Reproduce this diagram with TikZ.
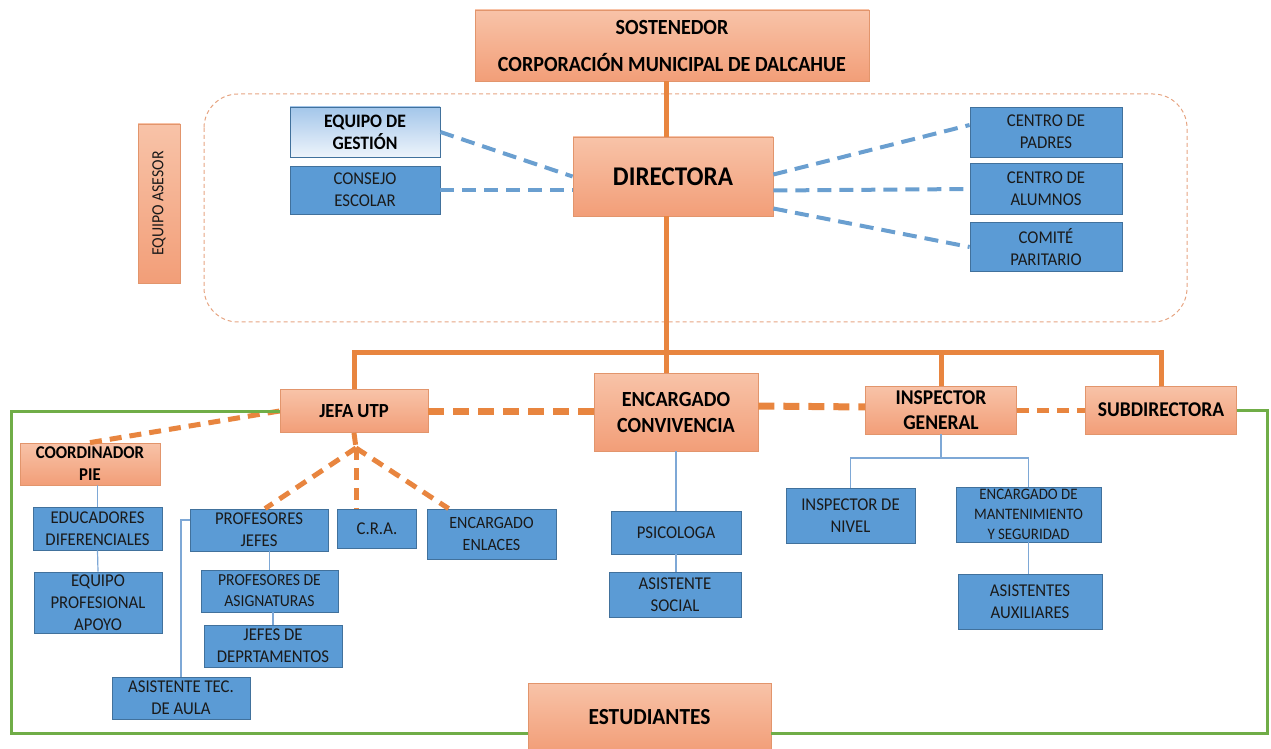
\documentclass[tikz,border=0pt]{standalone}
\usepackage{fontspec}
\setmainfont{Carlito}[FakeStretch=0.93]
\usepackage{tikz}
\usetikzlibrary{calc}
\definecolor{orTop}{HTML}{F8C3A8}
\definecolor{orBot}{HTML}{F29E78}
\definecolor{orLine}{HTML}{E2956C}
\definecolor{orLink}{HTML}{E8853F}
\definecolor{blFill}{HTML}{5B9BD5}
\definecolor{blLine}{HTML}{41719C}
\definecolor{blDash}{HTML}{6A9FD0}
\definecolor{blLink}{HTML}{7EA8D6}
\definecolor{gsTop}{HTML}{A3C6EA}
\definecolor{gsBot}{HTML}{EEF4FB}
\definecolor{frameGreen}{HTML}{70AD47}
\definecolor{txt}{HTML}{1A1A1A}
\tikzset{
    sz/.style 2 args={minimum width=#1*0.5pt, minimum height=#2*0.5pt},
    orbox/.style={draw=orLine, top color=orTop, bottom color=orBot, text=black, align=center, inner sep=1pt, font=\fontsize{10.5}{12.5}\selectfont\bfseries},
    bluebox/.style={draw=blLine, fill=blFill, text=txt, align=center, inner sep=1pt, font=\fontsize{9}{11}\selectfont},
    gestbox/.style={draw=blLine, top color=gsTop, bottom color=gsBot, text=black, align=center, inner sep=1pt, font=\fontsize{9.5}{11}\selectfont\bfseries},
    trunk/.style={draw=orLink, line width=2.5pt},
    orthick/.style={draw=orLink, line width=3.5pt, dash pattern=on 8pt off 4.5pt},
    ormid/.style={draw=orLink, line width=2.5pt, dash pattern=on 6pt off 4pt},
    bluedash/.style={draw=blDash, line width=2pt, dash pattern=on 7pt off 4pt},
    link/.style={draw=blLink, line width=0.6pt},
    frame/.style={draw=frameGreen, line width=1.5pt},
    advisor/.style={draw=orLine!85, line width=0.5pt, dash pattern=on 2pt off 1.5pt, rounded corners=17pt}
}
\begin{document}
\begin{tikzpicture}[x=0.5pt, y=-0.5pt]
    \useasboundingbox (0,0) rectangle (1271,749);
    \draw[advisor] (204,94) rectangle (1187,322);
    % top level
    \node[orbox, sz={394}{71}, font=\fontsize{10.8}{13}\selectfont\bfseries] (sost) at (672,45.5) {SOSTENEDOR\\[5.5pt]CORPORACIÓN MUNICIPAL DE DALCAHUE};
    \node[orbox, sz={200}{79}, font=\fontsize{13.5}{16}\selectfont\bfseries] (dir) at (673,176.5) {DIRECTORA};
    \node[orbox, sz={159}{42}, rotate=90, font=\fontsize{8.5}{10}\selectfont, text=txt] (asesor) at (159,203.5) {EQUIPO ASESOR};
    \node[gestbox, sz={150}{50}] (gest) at (365,132) {EQUIPO DE\\GESTIÓN};
    \node[bluebox, sz={150}{48}] (consejo) at (365,190) {CONSEJO\\ESCOLAR};
    \node[bluebox, sz={152}{50}] (padres) at (1046,132) {CENTRO DE\\PADRES};
    \node[bluebox, sz={152}{51}] (alumnos) at (1046,189) {CENTRO DE\\ALUMNOS};
    \node[bluebox, sz={152}{49}] (comite) at (1046,247) {COMITÉ\\PARITARIO};
    % second level
    \node[orbox, sz={148}{43}, font=\fontsize{10}{12}\selectfont\bfseries] (jefa) at (354,411) {JEFA UTP};
    \node[orbox, sz={164}{78}, font=\fontsize{10.8}{13}\selectfont\bfseries] (conv) at (676,412) {ENCARGADO\\CONVIVENCIA};
    \node[orbox, sz={151}{48}] (insp) at (941,410) {INSPECTOR\\GENERAL};
    \node[orbox, sz={151}{48}] (sub) at (1161,410) {SUBDIRECTORA};
    \node[orbox, sz={140}{42}, font=\fontsize{9}{11}\selectfont\bfseries] (coord) at (90,464) {COORDINADOR\\PIE};
    % blue units
    \node[bluebox, sz={129}{43}] (educ) at (97.5,528.5) {EDUCADORES\\DIFERENCIALES};
    \node[bluebox, sz={128}{61}] (equipo) at (98,602.5) {EQUIPO\\PROFESIONAL\\APOYO};
    \node[bluebox, sz={138}{42}] (profjefes) at (259,530) {PROFESORES\\JEFES};
    \node[bluebox, sz={79}{39}] (cra) at (377,528.5) {C.R.A.};
    \node[bluebox, sz={129}{50}, font=\fontsize{8.6}{11}\selectfont] (enlaces) at (491.5,534) {ENCARGADO\\ENLACES};
    \node[bluebox, sz={137}{42}, font=\fontsize{8.4}{10.5}\selectfont] (profasig) at (269.5,591) {PROFESORES DE\\ASIGNATURAS};
    \node[bluebox, sz={138}{42}] (jefesdep) at (273,646) {JEFES DE\\DEPRTAMENTOS};
    \node[bluebox, sz={138}{42}] (asistec) at (181,698) {ASISTENTE TEC.\\DE AULA};
    \node[bluebox, sz={130}{43}] (psico) at (676,532.5) {PSICOLOGA};
    \node[bluebox, sz={132}{45}] (asisoc) at (675,594.5) {ASISTENTE\\SOCIAL};
    \node[bluebox, sz={129}{55}] (nivel) at (850.5,515.5) {INSPECTOR DE\\NIVEL};
    \node[bluebox, sz={145}{55}, font=\fontsize{8}{10}\selectfont] (mant) at (1028.5,514.5) {ENCARGADO DE\\MANTENIMIENTO\\Y SEGURIDAD};
    \node[bluebox, sz={144}{55}] (aux) at (1030,601.5) {ASISTENTES\\AUXILIARES};
    \node[orbox, sz={243}{68}, font=\fontsize{11.5}{14}\selectfont\bfseries] (estud) at (649.5,717) {ESTUDIANTES};
    % helper points
    \coordinate (bus) at (666,352);
    \coordinate (split) at (941,458);
    \coordinate (fan) at (356,448);
    \coordinate (fl) at (11,733);
    \coordinate (fr) at (1267,733);
    % main lines
    \draw[trunk] (sost.south -| bus) -- (dir.north -| bus);
    \draw[trunk] (dir.south -| bus) -- (bus);
    \draw[trunk] (jefa.north) |- (bus) -| (sub.north);
    \draw[trunk] (insp.north) -- (insp.north |- bus);
    \draw[trunk] (conv.north -| bus) -- (bus);
    % advisory links
    \draw[bluedash] (gest.east) -- (dir.west);
    \draw[bluedash] (consejo.east) -- (dir.west |- consejo.east);
    \draw[bluedash] ([yshift=1pt]dir.east) -- ([yshift=3.5pt]padres.west);
    \draw[bluedash] ([yshift=-7pt]dir.east) -- (alumnos.west);
    \draw[bluedash] ([yshift=-16pt]dir.east) -- (comite.west);
    % coordination
    \draw[orthick] (jefa.east) -- (conv.west |- jefa.east);
    \draw[orthick] ([yshift=3pt]conv.east) -- ([yshift=1.5pt]insp.west);
    \draw[ormid] (insp.east) -- (sub.west);
    \draw[ormid] (coord.north) -- (jefa.west);
    \draw[ormid] (jefa.south) -- (fan);
    \draw[ormid] (fan) -- ([xshift=3pt]profjefes.north);
    \draw[ormid] (fan) -- (cra.north -| fan);
    \draw[ormid] (fan) -- ([xshift=11pt]enlaces.north west);
    % thin links
    \draw[link] (coord.south -| educ.north) -- (educ.north);
    \draw[link] (educ.south) -- (equipo.north);
    \draw[link] (asistec.north) |- ([yshift=5pt]profjefes.west);
    \draw[link] (profjefes.south -| profasig.north) -- (profasig.north);
    \draw[link] (profasig.south -| jefesdep.north) -- (jefesdep.north);
    \draw[link] (conv.south) -- (psico.north);
    \draw[link] (psico.south) -- (asisoc.north -| psico.south);
    \draw[link] (insp.south) -- (split);
    \draw[link] (nivel.north) |- (split) -| (mant.north);
    \draw[link] (mant.south) -- (aux.north -| mant.south);
    % school frame
    \draw[frame] (jefa.west) -| (fl) -- (estud.west |- fl);
    \draw[frame] (estud.east |- fl) -- (fr) |- (sub.east);
\end{tikzpicture}
\end{document}
